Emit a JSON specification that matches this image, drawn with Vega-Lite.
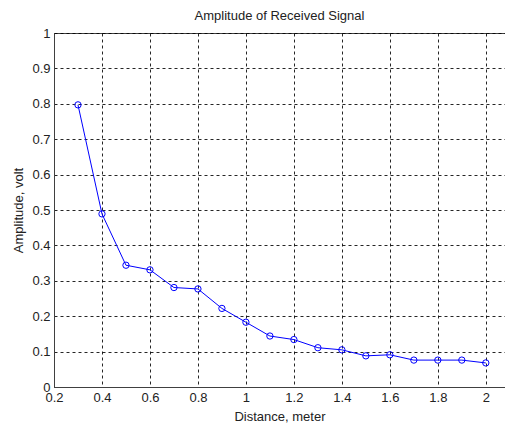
{
  "$schema": "https://vega.github.io/schema/vega-lite/v6.json",
  "width": 451,
  "height": 354,
  "autosize": "none",
  "padding": {"left": 54, "top": 33, "right": 0, "bottom": 39},
  "background": "white",
  "config": {
    "font": "Liberation Sans",
    "view": {"stroke": "#404040", "strokeWidth": 1},
    "axis": {
      "labelFont": "Liberation Sans",
      "titleFont": "Liberation Sans",
      "labelFontSize": 13,
      "titleFontSize": 13,
      "titleFontWeight": "normal",
      "labelColor": "#222",
      "titleColor": "#222",
      "domainColor": "#404040",
      "grid": true,
      "gridColor": "#000",
      "gridDash": [3, 3],
      "gridOpacity": 0.85,
      "ticks": false,
      "format": "~g"
    }
  },
  "title": {
    "text": "Amplitude of Received Signal",
    "fontSize": 13,
    "fontWeight": "normal",
    "font": "Liberation Sans",
    "color": "#222",
    "offset": 4
  },
  "data": {
    "values": [
      {"d": 0.3, "a": 0.797},
      {"d": 0.4, "a": 0.489},
      {"d": 0.5, "a": 0.344},
      {"d": 0.6, "a": 0.331},
      {"d": 0.7, "a": 0.281},
      {"d": 0.8, "a": 0.277},
      {"d": 0.9, "a": 0.222},
      {"d": 1.0, "a": 0.183},
      {"d": 1.1, "a": 0.144},
      {"d": 1.2, "a": 0.134},
      {"d": 1.3, "a": 0.111},
      {"d": 1.4, "a": 0.105},
      {"d": 1.5, "a": 0.088},
      {"d": 1.6, "a": 0.091},
      {"d": 1.7, "a": 0.076},
      {"d": 1.8, "a": 0.076},
      {"d": 1.9, "a": 0.076},
      {"d": 2.0, "a": 0.068}
    ]
  },
  "encoding": {
    "x": {
      "field": "d",
      "type": "quantitative",
      "scale": {"domain": [0.2, 2.08], "nice": false, "zero": false},
      "axis": {
        "title": "Distance, meter",
        "values": [0.2, 0.4, 0.6, 0.8, 1, 1.2, 1.4, 1.6, 1.8, 2],
        "labelPadding": 4,
        "titlePadding": 6,
        "labelFlush": false
      }
    },
    "y": {
      "field": "a",
      "type": "quantitative",
      "scale": {"domain": [0, 1], "nice": false},
      "axis": {
        "title": "Amplitude, volt",
        "values": [0, 0.1, 0.2, 0.3, 0.4, 0.5, 0.6, 0.7, 0.8, 0.9, 1],
        "labelPadding": 4,
        "titlePadding": 6,
        "labelFlush": false
      }
    }
  },
  "layer": [
    {"mark": {"type": "line", "color": "#0000ff", "strokeWidth": 1}},
    {"mark": {"type": "point", "shape": "circle", "filled": false, "color": "#0000ff", "size": 40, "strokeWidth": 1, "opacity": 1}}
  ]
}
